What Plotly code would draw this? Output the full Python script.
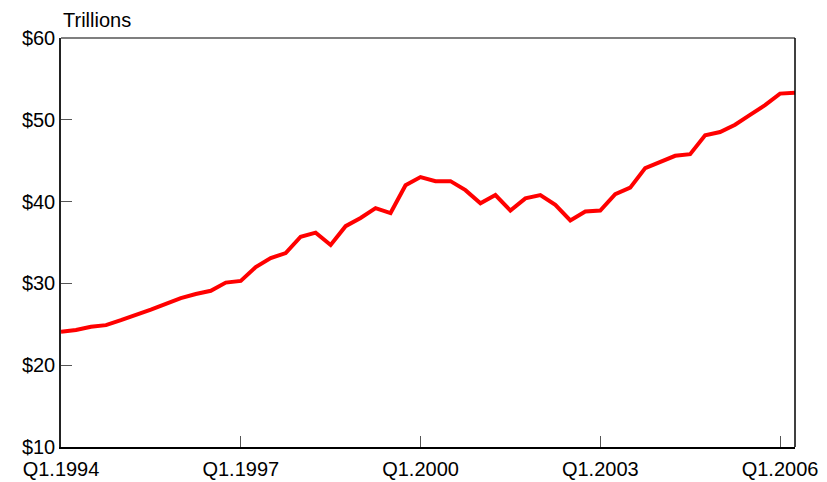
import plotly.graph_objects as go

quarters = list(range(50))
values = [24.1, 24.3, 24.7, 24.9, 25.5, 26.1, 26.8, 27.5, 28.2, 28.7,
          29.1, 30.1, 30.3, 32.0, 33.1, 33.7, 35.7, 36.2, 34.7, 37.0,
          38.0, 39.2, 38.6, 42.0, 43.0, 42.5, 42.5, 41.4, 39.8, 40.8,
          38.9, 40.4, 40.8, 39.6, 37.7, 38.8, 38.9, 40.9, 41.7, 44.1,
          44.9, 45.6, 45.8, 48.1, 48.5, 49.4, 50.6, 51.8, 53.2, 53.3]
tick_positions = [0, 12, 24, 36, 48]
tick_labels = ["Q1.1994", "Q1.1997", "Q1.2000", "Q1.2003", "Q1.2006"]
y_ticks = [10, 20, 30, 40, 50, 60]
y_labels = ["$10", "$20", "$30", "$40", "$50", "$60"]

FONT = "Liberation Sans, Arial, sans-serif"

fig = go.Figure()
fig.add_trace(go.Scatter(x=quarters, y=values, mode="lines",
                         line=dict(color="#ff0000", width=4), showlegend=False,
                         hoverinfo="skip"))

fig.update_layout(
    width=811, height=474,
    margin=dict(l=53, r=24, t=30, b=35, autoexpand=False),
    paper_bgcolor="white", plot_bgcolor="white",
    font=dict(family=FONT, size=20, color="black"),
    xaxis=dict(range=[0, 49], tickvals=tick_positions, ticktext=tick_labels,
               ticks="inside", ticklen=11, tickcolor="#555", tickwidth=1,
               showline=True, linecolor="black", linewidth=1.5, automargin=False,
               ticklabelstandoff=3,
               showgrid=False, zeroline=False, tickfont=dict(size=20)),
    yaxis=dict(range=[10, 60], tickvals=y_ticks, ticktext=y_labels,
               ticks="inside", ticklen=11, tickcolor="#555", tickwidth=1,
               showline=True, linecolor="#222", linewidth=1.5, automargin=False,
               showgrid=False, zeroline=False, tickfont=dict(size=20)),
    shapes=[
        dict(type="line", xref="paper", yref="paper", x0=0, x1=1, y0=1, y1=1,
             line=dict(color="#555", width=1.5)),
        dict(type="line", xref="paper", yref="paper", x0=1, x1=1, y0=0, y1=1,
             line=dict(color="black", width=1.5)),
    ],
    annotations=[dict(text="Trillions", xref="paper", yref="paper", x=0, y=1,
                      xanchor="left", yanchor="bottom", yshift=5, showarrow=False,
                      font=dict(size=20, family=FONT, color="black"))],
)

fig.write_html("out.html")
